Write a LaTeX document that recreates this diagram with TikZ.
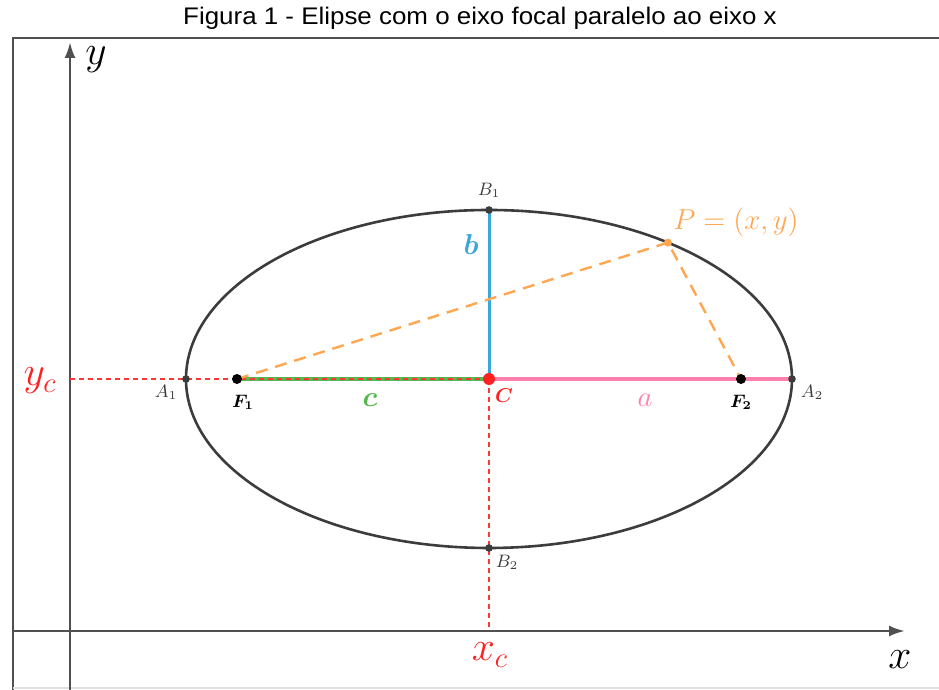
\documentclass[tikz,border=0pt]{standalone}
\usepackage{amsmath,amssymb}
\usepackage{bm}
\usepackage{fontspec}
\newfontfamily\titlefont[FakeStretch=1.08]{Liberation Sans}
\usetikzlibrary{positioning,arrows.meta,calc}
\definecolor{framegray}{HTML}{505050}
\definecolor{curvegray}{HTML}{3C3C3C}
\definecolor{segblue}{HTML}{3AA6DB}
\definecolor{seggreen}{HTML}{55B84E}
\definecolor{segpink}{HTML}{FF7FAE}
\definecolor{focorange}{HTML}{FFA651}
\definecolor{centred}{HTML}{FF2020}

\begin{document}
\begin{tikzpicture}[x=0.5pt,y=0.5pt,
  axis/.style={
    draw=framegray,
    line width=1.3pt,
    -{Latex[length=8pt,width=5.5pt]}
  },
  dot/.style={
    circle,
    fill=curvegray,
    inner sep=0pt,
    minimum size=3.8pt
  },
  focus/.style={
    circle,
    fill=black,
    inner sep=0pt,
    minimum size=5pt
  },
  ptlabel/.style={
    text=curvegray,
    font=\fontsize{9}{10}\selectfont
  },
  guide/.style={
    draw=centred!90,
    line width=0.7pt,
    dash pattern=on 2.5pt off 2pt
  },
  radius/.style={
    draw=focorange,
    line width=1.2pt,
    dash pattern=on 6pt off 4pt
  }
]
\useasboundingbox (0,0) rectangle (939,690);
\node[font=\titlefont\fontsize{12}{14}\selectfont] (title) at (480,672)
  {Figura 1 - Elipse com o eixo focal paralelo ao eixo x};
% Frame round the figure.
  \draw[framegray, line width=1.4pt] (13,0) -- (13,652) -- (939,652);
  \draw[gray!25, line width=0.6pt] (13,2) -- (939,2);
% Centre, vertices and foci.
  \coordinate (C) at (489,311);
  \coordinate (A1) at (186,311);
  \coordinate (A2) at (792,311);
  \coordinate (B1) at (489,480);
  \coordinate (B2) at (489,142);
  \coordinate (F1) at (237,311);
  \coordinate (F2) at (741,311);
  \coordinate (P) at ($(C)+(53.8:303 and 169)$);
  \coordinate (yfoot) at (70,311);
  \coordinate (xfoot) at (489,59);
% Axes.
  \draw[axis] (13,59) -- (905,59);
  \draw[axis] (70,0) -- (70,648);
  \node[font=\fontsize{21}{24}\selectfont] (ylab) at (96,630) {$y$};
  \node[font=\fontsize{22}{24}\selectfont] (xlab) at (900,30) {$x$};
% The ellipse.
  \draw[curvegray, line width=1.3pt] (C) ellipse (303 and 169);
% Semi-axes and focal distance.
  \draw[segblue, line width=1.5pt] (C) -- (B1);
  \draw[seggreen, line width=1.8pt] (F1) -- (C);
  \draw[segpink, line width=1.8pt] (C) -- (A2);
  \path[guide] (yfoot) -- (C);
  \path[guide] (C) -- (xfoot);
  \path[radius] (F1) -- (P) -- (F2);
  \node[text=centred, font=\fontsize{20}{22}\selectfont] (yc) at (40,309) {$y_c$};
  \node[text=centred, font=\fontsize{20}{22}\selectfont] (xc) at (490,35) {$x_c$};
  \node[text=segblue, font=\fontsize{14}{16}\selectfont] (blab) at (471,445) {$\bm{b}$};
  \node[text=seggreen, font=\fontsize{14}{16}\selectfont] (clab) at (370,290) {$\bm{c}$};
  \node[text=segpink, font=\fontsize{14}{16}\selectfont] (alab) at (645,290) {$a$};
% Points.
  \node[dot] (a1) at (A1) {};
  \node[dot] (a2) at (A2) {};
  \node[dot] (b1) at (B1) {};
  \node[dot] (b2) at (B2) {};
  \node[focus] (f1) at (F1) {};
  \node[focus] (f2) at (F2) {};
  \node[circle, fill=focorange, inner sep=0pt, minimum size=4pt] (p) at (P) {};
  \node[circle, fill=centred, inner sep=0pt, minimum size=6pt] (c) at (C) {};
  \node[ptlabel] (la1) at (166,298) {$A_1$};
  \node[ptlabel] (la2) at (812,298) {$A_2$};
  \node[ptlabel] (lb1) at (489,500) {$B_1$};
  \node[ptlabel] (lb2) at (507,128) {$B_2$};
  \node[font=\fontsize{9}{10}\selectfont] (lf1) at (243,288) {$\bm{F_1}$};
  \node[font=\fontsize{9}{10}\selectfont] (lf2) at (741,288) {$\bm{F_2}$};
  \node[text=centred, font=\fontsize{10}{12}\selectfont] (lc) at (504,294) {$\bm{C}$};
  \node[text=focorange, font=\fontsize{14}{16}\selectfont] (lp) at (736,468) {$P=(x,y)$};
\end{tikzpicture}
\end{document}
